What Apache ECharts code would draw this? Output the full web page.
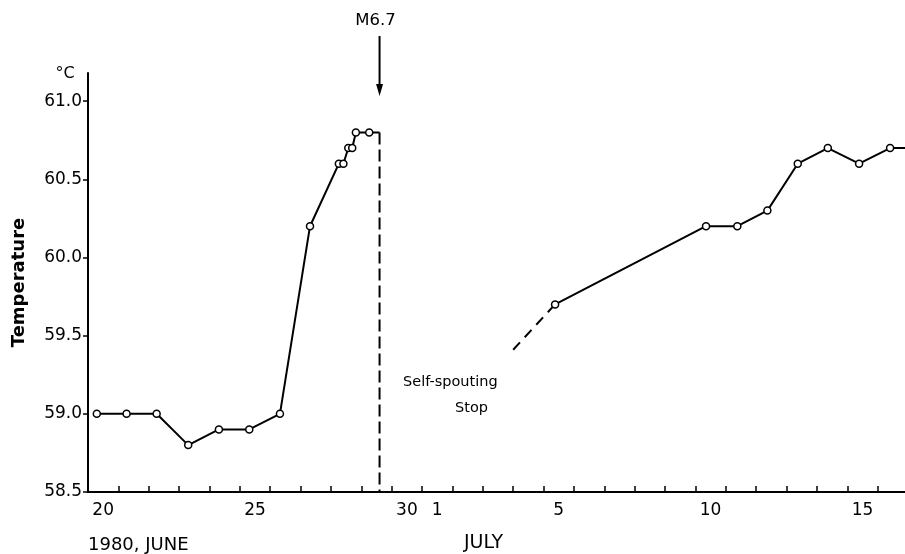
<!DOCTYPE html>
<html>
<head>
<meta charset="utf-8">
<script src="https://cdn.jsdelivr.net/npm/echarts@6/dist/echarts.min.js"></script>
<style>
  html, body { margin: 0; padding: 0; background: #fff; }
  #chart { width: 905px; height: 554px; }
</style>
</head>
<body>
<div id="chart"></div>
<script>
// day labels, one per category band (June 20 .. July 16)
const dayLabels = ['20','21','22','23','24','25','26','27','28','29','30',
  '1','2','3','4','5','6','7','8','9','10','11','12','13','14','15','16'];
const shownLabels = ['20','25','30','1','5','10','15'];

// x = days since June 20 00:00
const juneDays  = [0.29, 1.27, 2.26, 3.30, 4.31, 5.31, 6.32, 7.31, 8.26, 8.41, 8.57, 8.70, 8.82, 9.26];
const juneTemps = [59.0, 59.0, 59.0, 58.8, 58.9, 58.9, 59.0, 60.2, 60.6, 60.6, 60.7, 60.7, 60.8, 60.8];

const julyDays  = [15.38, 20.35, 21.38, 22.37, 23.37, 24.36, 25.39, 26.41, 27.40];
const julyTemps = [59.7, 60.2, 60.2, 60.3, 60.6, 60.7, 60.6, 60.7, 60.7];

const quakeDay = 9.6;         // M6.7, self-spouting stops
const recoveryStart = [14.0, 59.41];

const yTicks = [58.5, 59.0, 59.5, 60.0, 60.5, 61.0];

const FONT = 'DejaVu Sans';

const chart = echarts.init(document.getElementById('chart'));

const juneData = juneDays.map((d, i) => [d, juneTemps[i]]);
juneData.push({ value: [quakeDay, juneTemps[juneTemps.length - 1]], symbol: 'none' });
const julyData = julyDays.map((d, i) => [d, julyTemps[i]]);

const solidLine = { color: '#000', width: 2 };
const marker = { color: '#fff', borderColor: '#000', borderWidth: 1.5 };

chart.setOption({
  animation: false,
  backgroundColor: '#fff',
  grid: { left: 88, right: -3, top: 73, bottom: 62, outerBoundsMode: 'none' },
  xAxis: [
    {
      type: 'category',
      data: dayLabels,
      boundaryGap: true,
      axisLine: { show: true, lineStyle: { color: '#000', width: 2 } },
      axisTick: { show: true, inside: true, length: 6, interval: 0, lineStyle: { color: '#000', width: 1.5 } },
      axisLabel: {
        interval: (i, v) => shownLabels.includes(v),
        margin: 10,
        color: '#000',
        fontFamily: FONT,
        fontSize: 17
      },
      splitLine: { show: false }
    },
    { type: 'value', min: 0, max: 27, show: false }
  ],
  yAxis: {
    type: 'value',
    min: 58.5,
    max: 61.18,
    name: 'Temperature',
    nameLocation: 'middle',
    nameGap: 60,
    nameTextStyle: { color: '#000', fontFamily: FONT, fontSize: 18, fontWeight: 'bold' },
    axisLine: { show: true, lineStyle: { color: '#000', width: 2 } },
    axisTick: { show: true, length: 5, customValues: yTicks, lineStyle: { color: '#000', width: 1.5 } },
    axisLabel: {
      customValues: yTicks,
      formatter: v => v.toFixed(1),
      margin: 6,
      color: '#000',
      fontFamily: FONT,
      fontSize: 17
    },
    splitLine: { show: false }
  },
  series: [
    {
      name: 'June',
      type: 'line',
      xAxisIndex: 1,
      data: juneData,
      symbol: 'circle',
      symbolSize: 7,
      lineStyle: solidLine,
      itemStyle: marker,
      z: 3
    },
    {
      name: 'drop',
      type: 'line',
      xAxisIndex: 1,
      data: [[quakeDay, juneTemps[juneTemps.length - 1]], [quakeDay, 58.5]],
      symbol: 'none',
      lineStyle: { color: '#000', width: 2, type: [12, 5] }
    },
    {
      name: 'recovery',
      type: 'line',
      xAxisIndex: 1,
      data: [recoveryStart, julyData[0]],
      symbol: 'none',
      lineStyle: { color: '#000', width: 2, type: [10, 7] }
    },
    {
      name: 'July',
      type: 'line',
      xAxisIndex: 1,
      data: julyData,
      symbol: 'circle',
      symbolSize: 7,
      lineStyle: solidLine,
      itemStyle: marker,
      z: 3
    }
  ]
});

// annotations: earthquake arrow placed on the quake day
const qx = chart.convertToPixel({ xAxisIndex: 1 }, quakeDay);
const txt = (x, y, text, size, align) => ({
  type: 'text', x, y,
  style: { text, fill: '#000', font: size + 'px "' + FONT + '"', align: align || 'left', verticalAlign: 'middle' }
});

chart.setOption({
  graphic: [
    txt(qx - 4, 21, 'M6.7', 16.5, 'center'),
    { type: 'line', shape: { x1: qx, y1: 36, x2: qx, y2: 88 }, style: { stroke: '#000', lineWidth: 2 } },
    { type: 'polygon', shape: { points: [[qx - 3.5, 84], [qx + 3.5, 84], [qx, 96]] }, style: { fill: '#000' } },
    txt(65, 74, '°C', 16, 'center'),
    txt(403, 382, 'Self-spouting', 14.5),
    txt(455, 408, 'Stop', 14.5),
    txt(88, 545, '1980, JUNE', 18),
    txt(464, 543, 'JULY', 19)
  ]
});
</script>
</body>
</html>
